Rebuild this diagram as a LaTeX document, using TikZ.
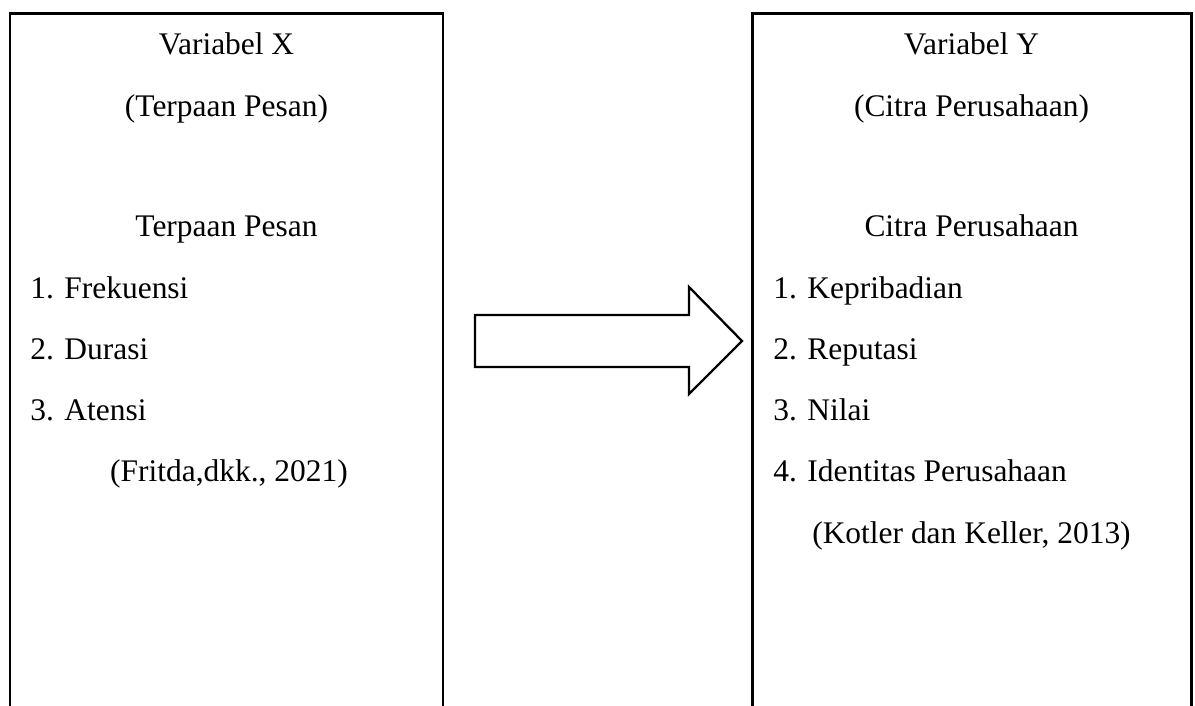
\documentclass[tikz,border=0pt]{standalone}
\usepackage{fontspec}
\setmainfont{Liberation Serif}
\tikzset{
    varbox/.style={line width=1.7pt, black},
    txt/.style={font=\fontsize{17.9}{21}\selectfont, inner sep=0pt, anchor=base},
    item/.style={txt, anchor=base west}
}
\begin{document}
\begin{tikzpicture}
        \useasboundingbox (0,0) rectangle (23.9,14.12);
        % kotak variabel X
        \draw[varbox] (0.2,0) |- (8.86,13.84) -- (8.86,0);
        \node[txt] (vx) at (4.53,13.02) {Variabel X};
        \node[txt] (vxsub) at (4.53,11.78) {(Terpaan Pesan)};
        \node[txt] (xhead) at (4.53,9.38) {Terpaan Pesan};
        \node[item] (x1) at (0.6,8.14) {1. Frekuensi};
        \node[item] (x2) at (0.6,6.92) {2. Durasi};
        \node[item] (x3) at (0.6,5.70) {3. Atensi};
        \node[txt] (xref) at (4.58,4.48) {(Fritda,dkk., 2021)};
        % panah
        \draw[line width=1.3pt] (9.5,7.82) -- (13.78,7.82) -- (13.78,8.38) -- (14.84,7.30)
            -- (13.78,6.24) -- (13.78,6.78) -- (9.5,6.78) -- cycle;
        % kotak variabel Y
        \draw[varbox] (15.04,0) |- (23.82,13.84) -- (23.82,0);
        \node[txt] (vy) at (19.43,13.02) {Variabel Y};
        \node[txt] (vysub) at (19.43,11.78) {(Citra Perusahaan)};
        \node[txt] (yhead) at (19.43,9.38) {Citra Perusahaan};
        \node[item] (y1) at (15.46,8.14) {1. Kepribadian};
        \node[item] (y2) at (15.46,6.92) {2. Reputasi};
        \node[item] (y3) at (15.46,5.70) {3. Nilai};
        \node[item] (y4) at (15.46,4.48) {4. Identitas Perusahaan};
        \node[txt] (yref) at (19.43,3.24) {(Kotler dan Keller, 2013)};
    \end{tikzpicture}
\end{document}
